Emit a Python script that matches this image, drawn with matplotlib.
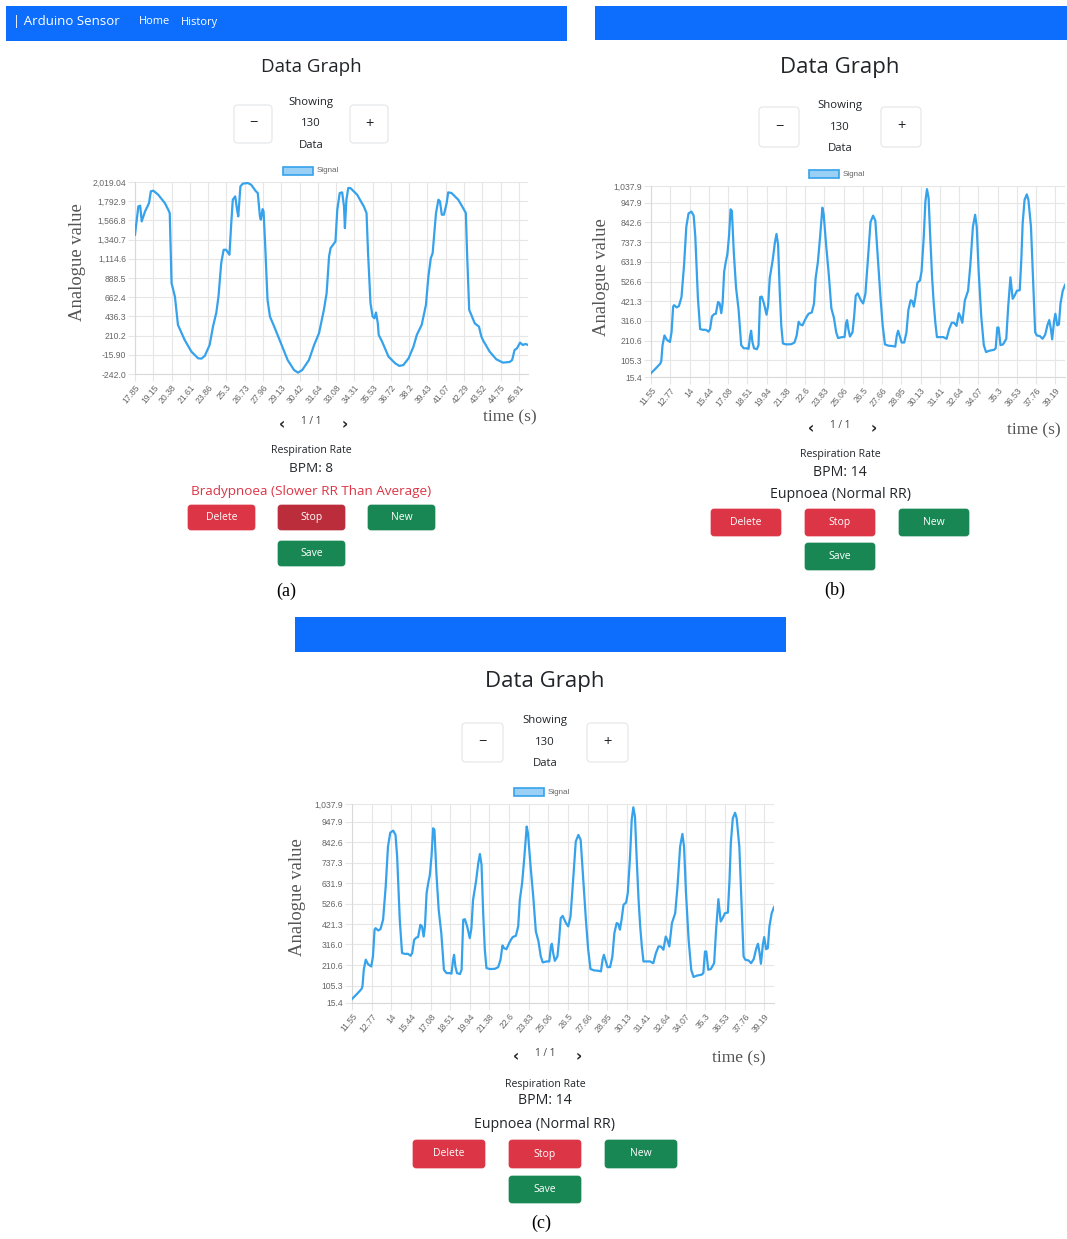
import matplotlib.pyplot as plt
from matplotlib.patches import FancyBboxPatch, Rectangle

W, H = 1067, 1239

# recording (a): slow breathing, 130 samples, every 6th sample labelled
a_times = ["17.85", "19.15", "20.38", "21.61", "23.86", "25.3", "26.73", "27.96",
           "29.13", "30.42", "31.64", "33.08", "34.31", "35.53", "36.72", "38.2",
           "39.43", "41.07", "42.29", "43.52", "44.75", "45.91"]
a_idx = [0, 1.1, 1.7, 2.2, 3.3, 4.1, 4.6, 5.2, 6, 7.6, 9.8, 10.9, 11.4, 12, 13.1,
         14.1, 16.3, 18.5, 20.7, 21.8, 22.9, 24.5, 25.6, 26.7, 27.4, 28.3, 29.1,
         29.9, 31, 31.6, 32.1, 32.9, 33.5, 33.9, 34.6, 35.4, 37, 38.1, 39.7, 40.3,
         41, 41.3, 41.9, 42.2, 42.7, 43.5, 44.3, 45.7, 47.9, 50.1, 52.2, 53.5, 54.9,
         57.1, 58.8, 60.4, 62, 62.9, 63.7, 64.2, 65.8, 66.4, 67.2, 68, 68.6, 68.9,
         69.4, 70, 70.7, 72.9, 75.1, 76, 76.5, 77.3, 78, 78.6, 79.1, 79.7, 80, 81.1,
         83.2, 85.4, 86.8, 88.1, 89.8, 91.4, 92.5, 94.1, 95.5, 96.3, 97.1, 97.7,
         98.8, 99.6, 100.1, 100.7, 101.4, 102.3, 102.8, 103.9, 106.1, 107.7, 108.6,
         109, 109.7, 110.4, 111.5, 112.9, 113.7, 114.3, 116.4, 118.6, 120.8, 123,
         123.8, 124.6, 125.4, 126.4, 127.3, 128.2, 129]
a_val = [1398, 1732, 1740, 1555, 1673, 1732, 1771, 1909, 1917, 1870,
         1771, 1693, 1653, 828, 670, 336, 159, 22, -57, -61,
         -29, 100, 316, 482, 670, 1064, 1221, 1221, 1162, 1535,
         1811, 1850, 1693, 1614, 1968, 2000, 2007, 1988, 1909, 1889,
         1614, 1575, 1700, 1673, 1300, 631, 434, 316, 120, -77,
         -195, -226, -195, -77, 100, 238, 513, 710, 1142, 1240,
         1319, 1693, 1889, 1897, 1732, 1476, 1811, 1948, 1948, 1870,
         1732, 1653, 1181, 592, 434, 415, 482, 356, 218, 140,
         -37, -116, -147, -136, -57, 80, 218, 336, 572, 906,
         1122, 1181, 1653, 1811, 1791, 1634, 1634, 1771, 1897, 1889,
         1811, 1712, 1653, 1181, 513, 454, 356, 316, 198, 151,
         22, -69, -108, -100, -77, 41, 61, 128, 100, 112, 100]
a_yticks = [-242.0, -15.90, 210.2, 436.3, 662.4, 888.5, 1114.6, 1340.7, 1566.8,
            1792.9, 2019.04]
a_ylabels = ["-242.0", "-15.90", "210.2", "436.3", "662.4", "888.5", "1,114.6",
             "1,340.7", "1,566.8", "1,792.9", "2,019.04"]

# recording (b) and (c): normal breathing, same 130 samples shown twice
bc_times = ["11.55", "12.77", "14", "15.44", "17.08", "18.51", "19.94", "21.38",
            "22.6", "23.83", "25.06", "26.5", "27.66", "28.95", "30.13", "31.41",
            "32.64", "34.07", "35.3", "36.53", "37.76", "39.19"]
bc_idx = [0, 1.3, 2.9, 3.2, 3.6, 4.2, 4.9, 5.9, 6.4, 6.9,
          7.2, 8, 8.7, 9.5, 10.3, 11, 11.7, 12.6, 13.3, 13.8,
          14.6, 15.3, 16.1, 17.1, 17.9, 18.4, 19, 19.7, 20.2, 20.9,
          21.4, 21.9, 22.3, 22.8, 23.3, 23.8, 24.3, 24.8, 25.2, 25.8,
          26.5, 27.3, 28.1, 28.9, 29.9, 30.4, 30.9, 31.2, 31.6, 32.1,
          33, 33.5, 34, 34.5, 35.2, 36, 36.5, 37, 37.9, 38.6,
          39.1, 39.6, 40.1, 40.6, 41.1, 42.1, 43.7, 44.7, 45.4, 46,
          46.5, 47.2, 48.3, 49.1, 50.1, 50.8, 51.3, 52, 52.7, 53.4,
          53.8, 54.6, 55.4, 56.2, 57, 57.7, 58.3, 59.5, 60.3, 60.8,
          61.1, 61.5, 62, 62.8, 63.3, 63.8, 64.4, 65.4, 66.1, 66.8,
          67.6, 68.4, 69.2, 69.9, 70.7, 71.5, 72.2, 72.9, 74, 75.3,
          76.1, 76.6, 77, 77.6, 78.1, 78.9, 79.6, 80.2, 80.9, 81.4,
          81.9, 82.4, 83, 83.8, 84.3, 85, 85.5, 86, 86.5, 87,
          87.6, 88.1, 88.6, 89.1, 90.1, 91.1, 92.1, 92.9, 93.7, 94.4,
          95.2, 95.9, 96.4, 97, 97.8, 98.8, 99.5, 100.3, 101, 101.5,
          102.1, 102.9, 103.7, 104.4, 105.4, 106.9, 107.4, 107.9, 108.3, 108.9,
          109.7, 110.7, 111.3, 112, 112.7, 113.3, 114, 114.9, 115.4, 115.8,
          116.4, 117.1, 117.6, 118.4, 119.2, 119.7, 120.2, 121.2, 122, 122.8,
          123.6, 124.1, 124.6, 125, 125.6, 126, 126.6, 127.1, 127.6, 128.3, 129]
bc_val = [36, 58, 87, 101, 186, 238, 215, 203, 255, 392,
          400, 388, 395, 443, 614, 819, 891, 901, 879, 768,
          443, 272, 268, 268, 258, 272, 340, 352, 354, 417,
          409, 357, 409, 580, 631, 674, 768, 913, 905, 682,
          494, 374, 186, 169, 169, 166, 238, 263, 203, 169,
          164, 186, 443, 446, 409, 349, 400, 545, 639, 734,
          781, 725, 477, 289, 195, 190, 191, 200, 238, 311,
          297, 292, 332, 354, 361, 409, 545, 631, 768, 922,
          887, 716, 563, 383, 332, 255, 224, 229, 229, 306,
          320, 272, 232, 255, 340, 451, 463, 426, 409, 460,
          648, 845, 879, 853, 648, 443, 289, 190, 183, 181,
          178, 238, 263, 229, 200, 200, 255, 374, 426, 422,
          392, 443, 520, 532, 580, 768, 956, 1021, 973, 768,
          545, 409, 306, 229, 229, 229, 220, 272, 306, 306,
          289, 357, 340, 306, 426, 477, 614, 819, 884, 819,
          580, 340, 186, 149, 156, 161, 169, 280, 280, 186,
          190, 220, 392, 549, 434, 451, 477, 480, 648, 836,
          964, 993, 964, 819, 477, 255, 238, 234, 220, 241,
          297, 320, 272, 217, 315, 354, 292, 297, 409, 477, 508]
bc_yticks = [15.4, 105.3, 210.6, 316.0, 421.3, 526.6, 631.9, 737.3, 842.6, 947.9, 1037.9]
bc_ylabels = ["15.4", "105.3", "210.6", "316.0", "421.3", "526.6", "631.9", "737.3",
              "842.6", "947.9", "1,037.9"]

n_samples = 130
label_step = 6

UI = "Open Sans"
CHART = "Liberation Sans"
SERIF = "Liberation Serif"
DARK = "#212529"
BLUE = "#0d6efd"
RED = "#dc3545"
GREEN = "#198754"
LINE = "#36a2eb"

fig = plt.figure(figsize=(W / 100, H / 100), dpi=100)
# full-page axes in pixel units (y down) for the web page furniture
page = fig.add_axes([0, 0, 1, 1])
page.set_xlim(0, W)
page.set_ylim(H, 0)
page.axis("off")


def txt(x, y, s, size, color=DARK, family=UI, **kw):
    page.text(x, y, s, fontsize=size, color=color, family=family,
              ha=kw.pop("ha", "center"), va=kw.pop("va", "center"), **kw)


def button(x0, y0, x1, y1, label, face, size=7.5):
    page.add_patch(FancyBboxPatch((x0, y0), x1 - x0, y1 - y0,
                                  boxstyle="round,pad=0,rounding_size=3",
                                  fc=face, ec=face, lw=0.5))
    txt((x0 + x1) / 2, (y0 + y1) / 2, label, size, color="white")


def outline_button(x0, y0, x1, y1, label):
    page.add_patch(FancyBboxPatch((x0, y0), x1 - x0, y1 - y0,
                                  boxstyle="round,pad=0,rounding_size=4",
                                  fc="white", ec="#e3e5e8", lw=0.8))
    txt((x0 + x1) / 2, (y0 + y1) / 2, label, 10.5)


def chart(box, times, idx, val, yticks, ylabels):
    left, top, right, bottom = box
    ax = fig.add_axes([left / W, 1 - bottom / H, (right - left) / W, (bottom - top) / H])
    ax.plot(idx, val, color=LINE, lw=1.6, solid_joinstyle="round", zorder=3)
    ax.set_xlim(0, n_samples - 1)
    ax.set_ylim(yticks[0], yticks[-1])
    ax.set_xticks(range(0, n_samples, label_step))
    ax.set_xticklabels(times, rotation=50, ha="right", rotation_mode="anchor",
                       family=CHART)
    ax.set_yticks(yticks)
    ax.set_yticklabels(ylabels, family=CHART)
    ax.tick_params(length=5, width=0.8, color="#e6e6e6", labelsize=6.2,
                   labelcolor="#666666", pad=1.5)
    ax.grid(color="#e6e6e6", lw=0.8, zorder=0)
    ax.set_axisbelow(True)
    for side in ("top", "right"):
        ax.spines[side].set_visible(False)
    for side in ("left", "bottom"):
        ax.spines[side].set_color("#d9d9d9")
        ax.spines[side].set_linewidth(0.8)
    ax.patch.set_alpha(0)
    return ax


def draw(cx, title_y, title_size, ctrl, legend, plot, ylab, tlabel, pager_y,
         info_y, status, status_color, bpm, text_size, rows, cols, tag_xy, tag,
         times, idx, val, yticks, ylabels, stop_face):
    txt(cx, title_y, "Data Graph", title_size)
    # sample count selector
    y0, y1, mx0, px0, bw = ctrl
    outline_button(mx0, y0, mx0 + bw, y1, "\u2212")
    outline_button(px0, y0, px0 + bw, y1, "+")
    ym = (y0 + y1) / 2
    txt(cx, ym - 21.5, "Showing", 8.2)
    txt(cx, ym, "130", 8.2)
    txt(cx, ym + 21.5, "Data", 8.2)
    # legend
    lx, ly = legend
    page.add_patch(Rectangle((lx, ly - 4), 30, 8, fc="#9ad0f5", ec=LINE, lw=1.2))
    txt(lx + 34, ly, "Signal", 5.8, color="#666666", family=CHART, ha="left")
    chart(plot, times, idx, val, yticks, ylabels)
    txt(ylab[0], ylab[1], "Analogue value", 13.4, color="#555555",
        family=SERIF, rotation=90)
    txt(tlabel[0], tlabel[1], "time (s)", 12.5, color="#555555", family=SERIF,
        ha="right")
    # pager
    txt(cx - 29, pager_y + 3, "\u2039", 11, family="DejaVu Sans", weight="bold")
    txt(cx, pager_y, "1 / 1", 7.2, color="#444444")
    txt(cx + 34, pager_y + 3, "\u203a", 11, family="DejaVu Sans", weight="bold")
    # result
    txt(cx, info_y, "Respiration Rate", 7.6)
    txt(cx, info_y + 17, bpm, text_size)
    txt(cx, info_y + 40, status, text_size, color=status_color)
    (r1, r2), (bw2, d_x, s_x, n_x) = rows, cols
    button(d_x, r1[0], d_x + bw2, r1[1], "Delete", RED)
    button(s_x, r1[0], s_x + bw2, r1[1], "Stop", stop_face)
    button(n_x, r1[0], n_x + bw2, r1[1], "New", GREEN)
    button(s_x, r2[0], s_x + bw2, r2[1], "Save", GREEN)
    txt(tag_xy[0], tag_xy[1], tag, 13, color="black", family=SERIF)


# panel (a)
page.add_patch(Rectangle((6, 6), 561, 35, fc=BLUE, ec="none"))
txt(13, 22, "| Arduino Sensor", 9.5, color="white", ha="left")
txt(139, 22, "Home", 7.9, color="white", ha="left")
txt(181, 22, "History", 7.9, color="white", ha="left")
draw(311, 67, 13.5, (105, 143, 234, 350, 38), (283, 171), (135, 182, 528, 374),
     (78, 262), (537, 417), 422, 451, "Bradypnoea (Slower RR Than Average)", RED,
     "BPM: 8", 9.7, ((505, 530), (541, 566)), (67, 188, 278, 368), (286, 591), "(a)",
     a_times, a_idx, a_val, a_yticks, a_ylabels, "#bb2d3b")

# panel (b)
page.add_patch(Rectangle((595, 6), 472, 34, fc=BLUE, ec="none"))
draw(840, 67, 16, (107, 147, 759, 881, 40), (809, 174), (651, 186, 1065, 377),
     (602, 277), (1061, 430), 426, 455, "Eupnoea (Normal RR)", DARK, "BPM: 14",
     10.2, ((509, 536), (543, 570)), (70, 711, 805, 899), (835, 590), "(b)",
     bc_times, bc_idx, bc_val, bc_yticks, bc_ylabels, RED)

# panel (c)
page.add_patch(Rectangle((295, 617), 491, 35, fc=BLUE, ec="none"))
draw(545, 681, 16, (723, 762, 462, 587, 41), (514, 792), (352, 804, 774, 1003),
     (297, 897), (766, 1058), 1054, 1084, "Eupnoea (Normal RR)", DARK, "BPM: 14",
     10.2, ((1140, 1168), (1176, 1203)), (72, 413, 509, 605), (541, 1223), "(c)",
     bc_times, bc_idx, bc_val, bc_yticks, bc_ylabels, RED)

fig.savefig("out.png", dpi=100)
